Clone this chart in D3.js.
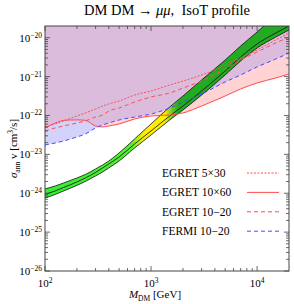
<!DOCTYPE html>
<html>
<head>
<meta charset="utf-8">
<script src="https://cdn.jsdelivr.net/npm/d3@7"></script>
<style>
  body { margin: 0; background: #fff; }
  text { font-family: "Liberation Serif", "DejaVu Serif", serif; fill: #000; }
</style>
</head>
<body>
<svg id="chart" width="294" height="304"></svg>
<script>
// dark matter mass grid [GeV]
const massGeV = [100, 125, 150, 200, 240, 300, 350, 400, 500, 700, 1000, 1500, 2000, 3000, 5000, 7000, 10000, 15000, 20000];

// bounds on sigma v [cm^3/s]
const egret5x30 = [5.06e-23, 6.04e-23, 7.22e-23, 9.71e-23, 1.16e-22, 1.47e-22, 1.75e-22, 1.98e-22, 2.36e-22, 3.36e-22, 4.26e-22, 6.08e-22, 7.71e-22, 1.10e-21, 1.96e-21, 3.01e-21, 4.83e-21, 8.73e-21, 1.32e-20];
const egret10x60 = [4.77e-23, 6.4e-23, 7.5e-23, 7.7e-23, 7.5e-23, 5.37e-23, 5.06e-23, 5.37e-23, 6.04e-23, 8.13e-23, 9.71e-23, 1.03e-22, 1.16e-22, 1.75e-22, 3.17e-22, 4.80e-22, 6.85e-22, 9.21e-22, 1.17e-21];
const egret10to20 = [4.0e-23, 4.77e-23, 5.37e-23, 6.41e-23, 7.22e-23, 9.15e-23, 1.03e-22, 1.30e-22, 1.56e-22, 2.22e-22, 2.99e-22, 3.79e-22, 5.09e-22, 7.71e-22, 1.57e-21, 2.67e-21, 4.29e-21, 7.31e-21, 1.04e-20];
const fermi10to20 = [1.75e-23, 1.96e-23, 2.21e-23, 2.80e-23, 3.34e-23, 4.77e-23, 5.70e-23, 6.41e-23, 7.66e-23, 9.15e-23, 1.09e-22, 1.56e-22, 2.22e-22, 3.57e-22, 7.27e-22, 1.10e-21, 1.77e-21, 2.83e-21, 4.04e-21];

// fit region (band edges)
const bandUpper = [1.29e-24, 1.54e-24, 1.84e-24, 2.47e-24, 3.04e-24, 4.21e-24, 5.34e-24, 6.76e-24, 1.09e-23, 2.49e-23, 6.05e-23, 1.65e-22, 3.17e-22, 8.18e-22, 2.67e-21, 6.12e-21, 1.40e-20, 3.6e-20, 6.0e-20];
const bandMiddle = [9.3e-25, 1.15e-24, 1.41e-24, 1.95e-24, 2.47e-24, 3.43e-24, 4.47e-24, 5.66e-24, 8.57e-24, 1.85e-23, 4.0e-23, 9.7e-23, 1.75e-22, 4.26e-22, 1.39e-21, 3.19e-21, 6.89e-21, 1.32e-20, 2.0e-20];
const bandLower = [7.57e-25, 9.3e-25, 1.15e-24, 1.59e-24, 2.01e-24, 2.79e-24, 3.53e-24, 4.48e-24, 6.76e-24, 1.46e-23, 3.15e-23, 7.66e-23, 1.38e-22, 3.36e-22, 1.10e-21, 2.52e-21, 5.43e-21, 1.04e-20, 1.58e-20];

// band colour along the mass axis
const bandStopMass = [100, 650, 850, 1350, 1550, 1800, 20000];
const bandStopColor = ["#33ee33", "#55ee33", "#ffee00", "#ffee00", "#77cc22", "#22aa22", "#22aa22"];

const legendNames = ["EGRET 5\u00d730", "EGRET 10\u00d760", "EGRET 10\u221220", "FERMI 10\u221220"];

const xMajor = [2, 3, 4];
const yMajor = [-26, -25, -24, -23, -22, -21, -20];

const svg = d3.select("#chart");
const L = 45, R = 289, T = 26, B = 271;

const x = d3.scaleLog().domain([100, 20000]).range([L, R]);
const y = d3.scaleLog().domain([1e-26, 2e-20]).range([B, T]);

const defs = svg.append("defs");
defs.append("clipPath").attr("id", "plotclip")
  .append("rect").attr("x", L).attr("y", T).attr("width", R - L).attr("height", B - T);

const pts = arr => massGeV.map((m, i) => [m, arr[i]]);

const line = d3.line().x(d => x(d[0])).y(d => y(d[1])).curve(d3.curveMonotoneX);
const areaAbove = d3.area().x(d => x(d[0])).y0(T - 5).y1(d => y(d[1])).curve(d3.curveMonotoneX);

// blue area as a clip, for the overlap region
defs.append("clipPath").attr("id", "fermiclip")
  .append("path").attr("d", areaAbove(pts(fermi10to20)));

const plot = svg.append("g").attr("clip-path", "url(#plotclip)");

plot.append("path").attr("d", areaAbove(pts(egret10x60))).attr("fill", "#ffd3d3");
plot.append("path").attr("d", areaAbove(pts(fermi10to20))).attr("fill", "#d2d2fb");
plot.append("g").attr("clip-path", "url(#fermiclip)")
  .append("path").attr("d", areaAbove(pts(egret10x60))).attr("fill", "#dcbcdc");

// band gradient
const grad = defs.append("linearGradient").attr("id", "bandgrad")
  .attr("gradientUnits", "userSpaceOnUse")
  .attr("x1", x(100)).attr("x2", x(20000)).attr("y1", 0).attr("y2", 0);
bandStopMass.forEach((m, i) => {
  grad.append("stop")
    .attr("offset", (x(m) - x(100)) / (x(20000) - x(100)))
    .attr("stop-color", bandStopColor[i]);
});

const band = d3.area().x(d => x(d[0])).y0(d => y(d[1])).y1(d => y(d[2])).curve(d3.curveMonotoneX);
plot.append("path")
  .attr("d", band(massGeV.map((m, i) => [m, bandLower[i], bandUpper[i]])))
  .attr("fill", "url(#bandgrad)");
[bandUpper, bandMiddle, bandLower].forEach(arr => {
  plot.append("path").attr("d", line(pts(arr)))
    .attr("fill", "none").attr("stroke", "#111").attr("stroke-width", 0.8);
});

// bound lines
const series = [
  { v: egret5x30, color: "#ff4d4d", dash: "2,1.5" },
  { v: egret10x60, color: "#ff4d4d", dash: null },
  { v: egret10to20, color: "#ff4d4d", dash: "4,3" },
  { v: fermi10to20, color: "#4a4aff", dash: "4,3" }
];
series.forEach(s => {
  plot.append("path").attr("d", line(pts(s.v)))
    .attr("fill", "none").attr("stroke", s.color).attr("stroke-width", 1)
    .attr("stroke-dasharray", s.dash);
});

// frame and ticks
const axisColor = "#444";
const xMinor = [];
[100, 1000, 10000].forEach(d => { for (let k = 2; k <= 9; k++) if (d * k < 20000) xMinor.push(d * k); });
const yMinor = [];
for (let e = -26; e <= -21; e++) for (let k = 2; k <= 9; k++) if (k * Math.pow(10, e) <= 2e-20) yMinor.push(k * Math.pow(10, e));

const ticks = svg.append("g").attr("stroke", axisColor).attr("stroke-width", 0.8);
xMajor.forEach(e => {
  const px = x(Math.pow(10, e));
  ticks.append("line").attr("x1", px).attr("x2", px).attr("y1", B).attr("y2", B - 5);
  ticks.append("line").attr("x1", px).attr("x2", px).attr("y1", T).attr("y2", T + 5);
});
xMinor.forEach(v => {
  const px = x(v);
  ticks.append("line").attr("x1", px).attr("x2", px).attr("y1", B).attr("y2", B - 3);
  ticks.append("line").attr("x1", px).attr("x2", px).attr("y1", T).attr("y2", T + 3);
});
yMajor.forEach(e => {
  const py = y(Math.pow(10, e));
  ticks.append("line").attr("x1", L).attr("x2", L + 5).attr("y1", py).attr("y2", py);
  ticks.append("line").attr("x1", R).attr("x2", R - 5).attr("y1", py).attr("y2", py);
});
yMinor.forEach(v => {
  const py = y(v);
  ticks.append("line").attr("x1", L).attr("x2", L + 3).attr("y1", py).attr("y2", py);
  ticks.append("line").attr("x1", R).attr("x2", R - 3).attr("y1", py).attr("y2", py);
});
svg.append("rect").attr("x", L).attr("y", T).attr("width", R - L).attr("height", B - T)
  .attr("fill", "none").attr("stroke", axisColor).attr("stroke-width", 1);

// tick labels
xMajor.forEach(e => {
  const t = svg.append("text").attr("x", x(Math.pow(10, e))).attr("y", 287)
    .attr("text-anchor", "middle").attr("font-size", 11);
  t.append("tspan").text("10");
  t.append("tspan").attr("dy", -4).attr("font-size", 7.5).text(e);
});
yMajor.forEach(e => {
  const t = svg.append("text").attr("x", 42).attr("y", y(Math.pow(10, e)) + 4)
    .attr("text-anchor", "end").attr("font-size", 11);
  t.append("tspan").text("10");
  t.append("tspan").attr("dy", -4).attr("font-size", 7.5).text("\u2212" + (-e));
});

// axis titles
const xt = svg.append("text").attr("x", 155).attr("y", 298).attr("text-anchor", "middle").attr("font-size", 11);
xt.append("tspan").attr("font-style", "italic").text("M");
xt.append("tspan").attr("dy", 2.5).attr("font-size", 7.5).text("DM");
xt.append("tspan").attr("dy", -2.5).text(" [GeV]");

const yt = svg.append("text").attr("transform", "translate(17," + ((T + B) / 2) + ") rotate(-90)")
  .attr("text-anchor", "middle").attr("font-size", 11);
yt.append("tspan").attr("font-style", "italic").text("\u03c3");
yt.append("tspan").attr("dy", 2.5).attr("font-size", 7.5).text("ann");
yt.append("tspan").attr("dy", -2.5).text(" v [cm");
yt.append("tspan").attr("dy", -4).attr("font-size", 7.5).text("3");
yt.append("tspan").attr("dy", 4).text("/s]");

// title
const title = svg.append("text").attr("x", 167).attr("y", 15).attr("text-anchor", "middle").attr("font-size", 14.5);
title.append("tspan").text("DM DM \u2192 ");
title.append("tspan").attr("font-style", "italic").text("\u03bc\u03bc");
title.append("tspan").text(",\u00a0 IsoT profile");

// legend
const legend = svg.append("g");
legendNames.forEach((name, i) => {
  const ly = 173 + i * 19.4;
  legend.append("text").attr("x", 162).attr("y", ly + 4).attr("font-size", 11.5).text(name);
  legend.append("line").attr("x1", 247).attr("x2", 279).attr("y1", ly).attr("y2", ly)
    .attr("stroke", series[i].color).attr("stroke-width", 1)
    .attr("stroke-dasharray", series[i].dash);
});
</script>
</body>
</html>
